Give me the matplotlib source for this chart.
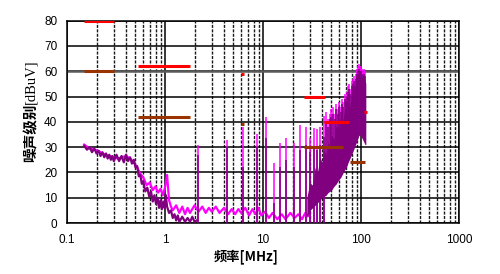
import matplotlib
matplotlib.use("Agg")
import matplotlib.pyplot as plt
from matplotlib.ticker import LogLocator, NullFormatter, FixedLocator, FixedFormatter

# --- data ---
# low band, purple trace (MHz, dBuV)
purple_lo_f = [0.15, 0.16, 0.17, 0.18, 0.19, 0.20, 0.21, 0.22, 0.23, 0.24,
               0.25, 0.26, 0.27, 0.28, 0.29, 0.30, 0.32, 0.34, 0.36, 0.38,
               0.40, 0.42, 0.44, 0.46, 0.48, 0.50, 0.52, 0.54, 0.56, 0.58,
               0.60, 0.63, 0.66, 0.69, 0.72, 0.75, 0.78, 0.81, 0.84, 0.87,
               0.90, 0.93, 0.96, 0.99, 1.02, 1.05, 1.10, 1.15, 1.20, 1.25,
               1.30, 1.35, 1.40, 1.50, 1.60, 1.70, 1.80, 1.90, 2.00, 2.10]
purple_lo_v = [30.5, 29, 30, 28, 29.5, 27.5, 28.5, 26.5, 28, 26,
               27.5, 25.5, 27, 25, 26.5, 24.5, 27, 24.5, 26.5, 24,
               27, 24.5, 26, 23.5, 25, 22, 22.5, 18.5, 19, 15.5,
               16.5, 12.5, 14, 10.5, 12.5, 8.5, 11, 7.5, 10, 6,
               9, 5.5, 8.5, 6, 11, 6.5, 4, 5, 2, 3.5,
               1, 3, 0.5, 2.5, 0.5, 2, 0.5, 2.5, 0.5, 1]

# low band, magenta trace
magenta_lo_f = [0.15, 0.17, 0.19, 0.21, 0.23, 0.25, 0.27, 0.30, 0.33, 0.36,
                0.40, 0.44, 0.48, 0.52, 0.56, 0.60, 0.65, 0.70, 0.75, 0.80,
                0.85, 0.90, 0.95, 1.00, 1.05, 1.10, 1.15, 1.20, 1.30, 1.40,
                1.50, 1.60, 1.70, 1.80, 2.00, 2.20, 2.40, 2.60, 2.80, 3.00,
                3.30, 3.60, 4.00, 4.40, 4.80, 5.20, 5.60, 6.00, 6.60, 7.20,
                7.80, 8.40, 9.00, 9.60, 10.5, 11.5, 12.5, 14.0, 15.5, 17.0,
                19.0, 21.0, 23.0, 25.0, 27.0, 30.0]
magenta_lo_v = [31, 29.5, 29, 28.5, 27.5, 27, 26.5, 26, 25.5, 26,
                26.5, 25.5, 24, 22, 19.5, 18, 15, 16, 13, 14.5,
                12, 13.5, 11, 14, 19, 9, 6.5, 5, 7, 4,
                6.5, 3.5, 6, 4, 7, 4.5, 6.5, 4, 6, 4.5,
                6.5, 4, 6, 3.5, 5.5, 3.5, 5.5, 4, 6, 3,
                5.5, 3.5, 6, 3, 4.5, 2, 4, 1.5, 3.5, 1.5,
                4, 2, 3.5, 1.5, 4, 2.5]

# harmonic spikes below 42 MHz (magenta tops, purple lower parts)
spike_f = [2.15, 4.3, 6.3, 8.6, 10.7, 12.8, 14.9, 17.1, 20.5, 24.0,
           27.3, 30.5, 33.0, 35.5, 38.5, 41.5]
spike_top = [31, 33, 38, 35.3, 41.8, 23.6, 31.5, 33.8, 31.5, 38.6,
             38, 33.5, 37.4, 37, 38, 42.5]
pspike_top = [27, 30, 22, 30, 33.5, 8, 22, 25, 22, 29,
              31, 28, 30, 29, 31, 34]

# spikes sticking out of the high band mass
hspike_f = [44, 46, 48, 50, 52, 54, 56, 58, 60, 62, 64, 66, 68, 70, 72,
            74, 76, 78, 80, 82, 84, 86, 88, 90, 92, 94, 96, 98, 100, 102,
            104, 106, 108, 110]
hspike_base = [14, 15, 15, 16, 17, 18, 18, 19, 20, 21, 22, 23, 24, 25, 25,
               26, 27, 28, 29, 30, 31, 32, 33, 34, 35, 36, 37, 37, 37, 36,
               36, 35, 34, 34]
hspike_mag = [44, 41, 43, 45, 46, 43, 47, 45, 48, 46, 49, 48, 51, 50, 52,
              54, 55, 53, 56, 57, 58, 56, 59, 60, 61, 62, 63, 62, 62, 61,
              60.5, 59, 61, 60]
hspike_pur = [40, 38, 41, 42, 43, 41, 45, 43, 46, 44, 47, 46, 49, 48, 50,
              52, 53, 51, 54, 55, 56, 54, 57, 58, 59, 60, 61, 60, 60, 59,
              58, 57, 59, 58]

# high band purple mass
hf_f = [28, 30, 32, 34, 36, 38, 40, 42, 44, 46, 48, 50, 53, 56, 59, 62, 65,
        68, 71, 74, 77, 80, 83, 86, 89, 92, 95, 98, 101, 104, 107, 110, 112]
hf_lo = [2, 5, 6, 7, 8, 9, 10, 10.5, 11, 12, 12.5, 13, 14.5, 15.5, 17, 18,
         19.5, 21, 22, 24, 25.5, 27, 28.5, 30, 31.5, 33, 34.5, 35, 34, 33,
         32, 31, 31]
hf_hi = [10, 16, 15, 22, 20, 26, 24, 29, 27, 32, 30, 35, 33, 39, 37, 42, 40,
         45, 43, 48, 46, 51, 49, 54, 52, 57, 59, 59, 58, 58, 56, 57, 55]

# limit lines (f_start, f_stop, level)
red_limits = [(0.15, 0.3, 80), (0.53, 1.8, 62), (5.9, 6.4, 59),
              (26, 43, 50), (42, 75, 40), (108, 114, 44)]
brown_limits = [(0.15, 0.3, 60), (0.53, 1.8, 42), (5.9, 6.4, 39),
                (26, 66, 30), (78, 110, 24)]

x_ticks = [0.1, 1, 10, 100, 1000]
x_tick_labels = ["0.1", "1", "10", "100", "1000"]
y_ticks = [0, 10, 20, 30, 40, 50, 60, 70, 80]

PURPLE = "#800080"
MAGENTA = "#ff00ff"

plt.rcParams["font.family"] = ["Liberation Sans", "DejaVu Sans"]

fig = plt.figure(figsize=(5.0, 2.74), dpi=100)
ax = fig.add_axes([0.134, 0.186, 0.784, 0.7385])

ax.set_xscale("log")
ax.set_xlim(0.1, 1000)
ax.set_ylim(0, 80)

# grid
ax.xaxis.set_major_locator(FixedLocator(x_ticks))
ax.xaxis.set_major_formatter(FixedFormatter(x_tick_labels))
ax.xaxis.set_minor_locator(LogLocator(base=10, subs=range(2, 10)))
ax.xaxis.set_minor_formatter(NullFormatter())
ax.set_yticks(y_ticks)
ax.grid(which="major", axis="both", color="black", lw=1.1, zorder=0)
ax.grid(which="minor", axis="x", color="#1a1a1a", lw=1.0,
        ls=(0, (2.2, 1.0)), zorder=0)
ax.set_axisbelow(True)
ax.axhline(60, color="#5a5a5a", lw=1.8, zorder=1)

# measured data
ax.plot(magenta_lo_f, magenta_lo_v, color=MAGENTA, lw=1.6, zorder=2)
ax.vlines(hspike_f, hspike_base, hspike_mag, colors=MAGENTA, lw=1.1, zorder=2)
ax.vlines(spike_f, 0, spike_top, colors=MAGENTA, lw=1.1, zorder=2)
ax.plot(purple_lo_f, purple_lo_v, color=PURPLE, lw=1.6, zorder=3)
ax.fill_between(hf_f, hf_lo, hf_hi, color=PURPLE, lw=0, zorder=3)
ax.vlines(hspike_f, hspike_base, hspike_pur, colors=PURPLE, lw=1.1, zorder=3)
ax.vlines(spike_f, 0, pspike_top, colors=PURPLE, lw=1.1, zorder=4)

# limits
for f0, f1, lv in red_limits:
    ax.plot([f0, f1], [lv, lv], color="#ff0000", lw=2.2, solid_capstyle="butt", zorder=5)
for f0, f1, lv in brown_limits:
    ax.plot([f0, f1], [lv, lv], color="#993300", lw=2.2, solid_capstyle="butt", zorder=5)

ax.tick_params(which="both", length=0)
ax.tick_params(axis="y", pad=7, labelsize=8.5)
ax.tick_params(axis="x", pad=8, labelsize=8.5)
for s in ax.spines.values():
    s.set_color("black")
    s.set_linewidth(1.1)

# axis titles
fig.text(246 / 500, 1 - 257 / 274, "频率[MHz]", ha="center", va="center",
         fontsize=9.5, fontweight="bold", family=["Noto Sans CJK SC", "DejaVu Sans"])
fig.text(31 / 500, 1 - 133 / 274, "噪声级别", ha="center", va="center", rotation=90,
         fontsize=10.5, fontweight="bold", family=["Noto Sans CJK SC", "DejaVu Sans"])
fig.text(31 / 500, 1 - 81.5 / 274, "[dBuV]", ha="center", va="center", rotation=90,
         fontsize=10.5, family=["Liberation Serif", "DejaVu Serif"])

fig.savefig("out.png", dpi=100)
